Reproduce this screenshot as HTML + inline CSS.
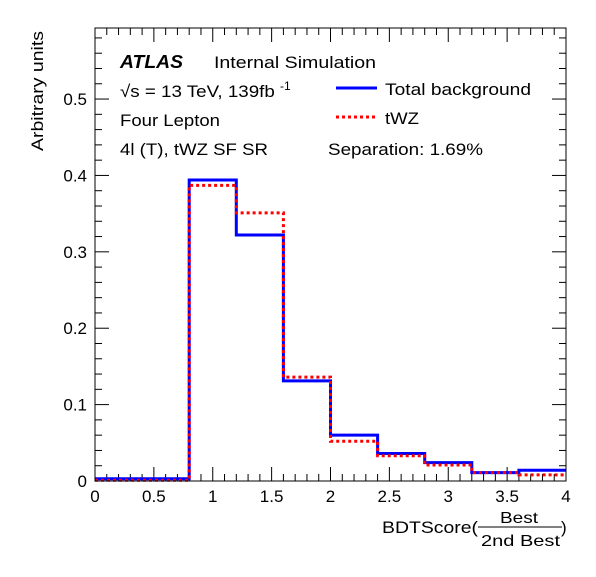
<!DOCTYPE html>
<html><head><meta charset="utf-8"><style>
body{margin:0;background:#fff}
svg text{font-family:"Liberation Sans",sans-serif;fill:#000}
</style></head><body>
<svg id="c" width="596" height="572" xmlns="http://www.w3.org/2000/svg">
<rect width="596" height="572" fill="#fff"/>
<g id="ticks"></g>
<g id="marks"></g>
<rect x="95" y="28" width="471" height="453" fill="none" stroke="#000" stroke-width="1"/>
<text x="120" y="68" font-size="18" font-weight="bold" font-style="italic" textLength="63" lengthAdjust="spacingAndGlyphs">ATLAS</text>
<text x="214" y="68" font-size="17" textLength="162" lengthAdjust="spacingAndGlyphs">Internal  Simulation</text>
<text x="120" y="97" font-size="17"><tspan textLength="160" lengthAdjust="spacingAndGlyphs">√s = 13 TeV, 139fb </tspan><tspan dy="-7" font-size="12">-1</tspan></text>
<text x="120" y="126" font-size="17" textLength="100" lengthAdjust="spacingAndGlyphs">Four Lepton</text>
<text x="120" y="155" font-size="17" textLength="148" lengthAdjust="spacingAndGlyphs">4l (T), tWZ SF SR</text>
<line x1="336" y1="88" x2="377" y2="88" stroke="#0000ff" stroke-width="3"/>
<text x="385" y="95" font-size="17" textLength="146" lengthAdjust="spacingAndGlyphs">Total background</text>
<line x1="336" y1="117" x2="377" y2="117" stroke="#ff0000" stroke-width="3" stroke-dasharray="3,3"/>
<text x="385" y="124" font-size="17" textLength="34" lengthAdjust="spacingAndGlyphs">tWZ</text>
<text x="328" y="155" font-size="17" textLength="155" lengthAdjust="spacingAndGlyphs">Separation: 1.69%</text>
<text transform="translate(43,91) rotate(-90)" font-size="17" text-anchor="middle" textLength="120" lengthAdjust="spacingAndGlyphs">Arbitrary units</text>
<g>
<text x="382" y="533" font-size="17" textLength="96" lengthAdjust="spacingAndGlyphs">BDTScore(</text>
<text x="500" y="523" font-size="16" textLength="38" lengthAdjust="spacingAndGlyphs">Best</text>
<line x1="478" y1="527" x2="562" y2="527" stroke="#000" stroke-width="1"/>
<text x="481" y="546" font-size="16" textLength="79" lengthAdjust="spacingAndGlyphs">2nd Best</text>
<text x="561" y="533" font-size="17">)</text>
</g>
</svg>
<script>
const binEdges=[0,0.4,0.8,1.2,1.6,2.0,2.4,2.8,3.2,3.6,4.0];
const totalBackground=[0.003,0.003,0.394,0.322,0.131,0.060,0.036,0.024,0.011,0.014];
const tWZ=[0.001,0.001,0.387,0.351,0.136,0.052,0.033,0.021,0.011,0.008];
const xTicks=[0,0.5,1,1.5,2,2.5,3,3.5,4];
const xTickLabels=["0","0.5","1","1.5","2","2.5","3","3.5","4"];
const yTicks=[0,0.1,0.2,0.3,0.4,0.5];
const yTickLabels=["0","0.1","0.2","0.3","0.4","0.5"];
const X0=95,X1=566,Y0=481,Y1=28,XMAX=4,YMAX=0.593;
const sx=v=>X0+v/XMAX*(X1-X0);
const sy=v=>Y0-v/YMAX*(Y0-Y1);
const NS="http://www.w3.org/2000/svg";
const tk=document.getElementById('ticks'),mk=document.getElementById('marks');
function ln(g,x1,y1,x2,y2){const l=document.createElementNS(NS,'line');l.setAttribute('x1',x1);l.setAttribute('y1',y1);l.setAttribute('x2',x2);l.setAttribute('y2',y2);l.setAttribute('stroke','#000');g.appendChild(l);return l;}
for(let i=0;i<=40;i++){const v=i*0.1,x=sx(v),L=(i%5==0)?14:7;
const a=ln(tk,x,Y0,x,Y0-L);
const b=ln(tk,x,Y1,x,Y1+L);}
for(let i=0;i*0.02<=YMAX;i++){const v=i*0.02,y=sy(v),L=(i%5==0)?14:7;
const a=ln(tk,X0,y,X0+L,y);
const b=ln(tk,X1,y,X1-L,y);}
xTicks.forEach((v,i)=>{const t=document.createElementNS(NS,'text');t.setAttribute('x',sx(v));t.setAttribute('y',Y0+21);t.setAttribute('font-size','17');t.setAttribute('text-anchor','middle');t.textContent=xTickLabels[i];

tk.appendChild(t);});
yTicks.forEach((v,i)=>{const t=document.createElementNS(NS,'text');t.setAttribute('x',X0-8);t.setAttribute('y',sy(v)+6);t.setAttribute('font-size','17');t.setAttribute('text-anchor','end');t.textContent=yTickLabels[i];

tk.appendChild(t);});
function hist(vals,color,dash,name){let d=`M${sx(binEdges[0])},${sy(vals[0])}`;
vals.forEach((v,i)=>{if(i>0)d+=` V${sy(v)}`;d+=` H${sx(binEdges[i+1])}`;});
const p=document.createElementNS(NS,'path');p.setAttribute('d',d);p.setAttribute('fill','none');p.setAttribute('stroke',color);p.setAttribute('stroke-width','3');if(dash)p.setAttribute('stroke-dasharray',dash);

mk.appendChild(p);}
hist(totalBackground,'#0000ff',null,'total-background-hist');
hist(tWZ,'#ff0000','3,3','twz-hist');
</script>
</body></html>
